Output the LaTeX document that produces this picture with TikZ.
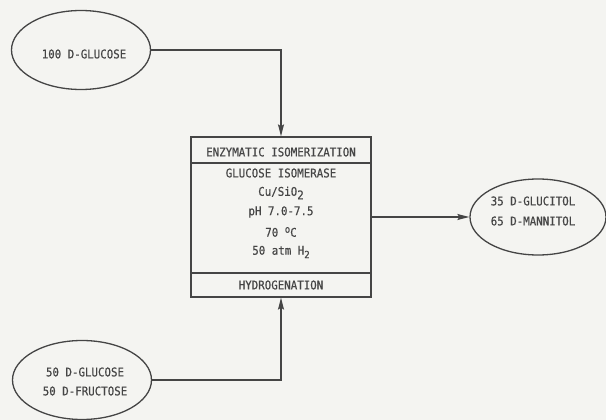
\documentclass[tikz,border=0pt]{standalone}
\usepackage{fontspec}
\newfontfamily\plotfont[FakeStretch=0.9,FakeBold=0.4]{DejaVu Sans Mono}
\usetikzlibrary{arrows.meta,shapes.geometric}
\definecolor{ink}{HTML}{454545}
\definecolor{paper}{HTML}{F4F4F1}
\begin{document}
\begin{tikzpicture}[x=1pt,y=-1pt,
  every node/.style={font=\plotfont\fontsize{12}{14}\selectfont, text=ink},
  oval/.style={draw=ink, line width=1.3pt, ellipse, minimum width=139, minimum height=79, inner sep=0pt, align=center},
  proc/.style={draw=ink, line width=1.3pt, rectangle, minimum width=180, minimum height=160, inner sep=0pt},
  lab/.style={inner sep=0pt, anchor=center},
  flow/.style={draw=ink, line width=1.3pt, -{Stealth[length=12pt,width=6pt,inset=2pt]}},
  rule/.style={draw=ink, line width=1.3pt}]
\fill[paper] (0,0) rectangle (606,420);
\useasboundingbox (0,0) rectangle (606,420);

\node[oval] (glc) at (81,50) {};
\node[lab] (glct) at (84,54) {100 D-GLUCOSE};

\node[oval] (mix) at (82,380) {};
\node[lab] (mix1) at (85,372) {50 D-GLUCOSE};
\node[lab] (mix2) at (85,391) {50 D-FRUCTOSE};

\node[oval, minimum width=136, minimum height=76] (prod) at (538,217) {};
\node[lab] (prod1) at (533,201) {35 D-GLUCITOL};
\node[lab] (prod2) at (533,221) {65 D-MANNITOL};

\node[proc] (box) at (281,217) {};
\coordinate (d1l) at (191,163); \coordinate (d1r) at (371,163);
\coordinate (d2l) at (191,273); \coordinate (d2r) at (371,273);
\draw[rule] (d1l) -- (d1r);
\draw[rule] (d2l) -- (d2r);

\node[lab] (h1) at (281,152) {ENZYMATIC ISOMERIZATION};
\node[lab] (t1) at (281,173) {GLUCOSE ISOMERASE};
\node[lab] (t2) at (281,193) {Cu/SiO\raisebox{-3.5pt}{2}};
\node[lab] (t3) at (281,212) {pH 7.0-7.5};
\node[lab] (t4) at (281,232) {70 \raisebox{4pt}{\fontsize{10}{10}\selectfont o}C};
\node[lab] (t5) at (281,252) {50 atm H\raisebox{-3.5pt}{\fontsize{10}{10}\selectfont 2}};
\node[lab] (h2) at (281,285) {HYDROGENATION};

\draw[flow] (glc.east) -| (box.north);
\draw[flow] (mix.east) -| (box.south);
\draw[flow] (box.east) -- (prod.west);
\end{tikzpicture}
\end{document}
